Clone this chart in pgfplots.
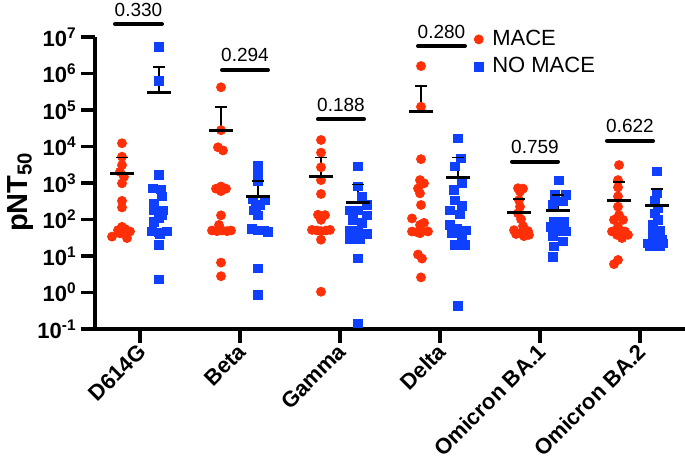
\documentclass[border=0pt]{standalone}
\usepackage{fontspec}
\setmainfont{Liberation Sans}
\usepackage{pgfplots}
\usepackage{pgfplotstable}
\pgfplotsset{compat=1.18}

\definecolor{mred}{RGB}{255,48,8}
\definecolor{mblue}{RGB}{16,64,255}

% MACE points (x = group index with swarm offset)
\pgfplotstableread{
x y
-0.18 12300
-0.18 5250
-0.18 3090
-0.20 2040
-0.16 1480
-0.18 980
-0.18 324
-0.18 214
-0.18 63
-0.22 51
-0.10 47
-0.20 42
-0.28 34
-0.13 31
-0.15 55
0.81 420000
0.81 28000
0.78 9500
0.83 7800
0.81 800
0.76 700
0.86 700
0.81 600
0.81 130
0.79 71
0.72 50
0.77 48
0.82 50
0.87 48
0.91 50
0.81 6.6
0.81 2.8
1.81 15100
1.81 6800
1.81 2700
1.81 1200
1.81 500
1.78 135
1.85 132
1.81 98
1.72 52
1.77 50
1.81 48
1.86 50
1.90 52
1.81 28
1.81 1.05
2.81 1600000
2.81 123000
2.81 4500
2.80 1200
2.84 980
2.78 710
2.80 520
2.81 250
2.72 107
2.84 81
2.80 71
2.72 47
2.77 45
2.82 47
2.88 47
2.80 42
2.78 11
2.82 8.5
2.81 2.6
3.78 720
3.83 700
3.80 580
3.79 340
3.80 225
3.78 148
3.81 102
3.83 66
3.74 51
3.88 48
3.80 42
3.84 35
3.89 38
3.76 40
4.79 3100
4.78 1200
4.78 760
4.78 430
4.78 225
4.79 132
4.74 98
4.83 98
4.78 63
4.72 47
4.85 47
4.77 38
4.88 38
4.82 31
4.78 7.8
4.74 6.0
}\mace

% NO MACE points
\pgfplotstableread{
x y
0.19 5400000
0.19 630000
0.19 1660
0.13 710
0.21 680
0.22 425
0.14 275
0.14 180
0.23 175
0.22 130
0.19 107
0.14 87
0.12 47
0.19 45
0.27 47
0.20 40
0.19 20
0.19 2.3
1.18 3090
1.18 1860
1.18 1120
1.13 355
1.25 340
1.20 250
1.16 220
1.14 180
1.18 130
1.12 56
1.18 50
1.24 50
1.28 46
1.18 4.6
1.18 0.85
2.18 2800
2.18 800
2.22 430
2.27 250
2.10 180
2.18 180
2.27 130
2.13 98
2.22 80
2.10 51
2.18 51
2.27 40
2.10 28
2.20 28
2.18 8.7
2.18 0.145
3.18 16600
3.21 4800
3.15 2800
3.22 980
3.14 650
3.15 340
3.22 235
3.10 180
3.20 138
3.10 71
3.17 58
3.26 51
3.12 42
3.22 34
3.15 20
3.25 20
3.18 0.43
4.19 1200
4.15 470
4.26 470
4.23 310
4.13 250
4.14 87
4.24 87
4.11 63
4.21 47
4.26 47
4.13 34
4.23 25
4.14 18
4.13 9.5
5.17 2100
5.17 520
5.15 340
5.18 205
5.15 148
5.18 98
5.13 71
5.20 51
5.13 38
5.22 28
5.08 22
5.15 22
5.23 22
5.10 18
5.20 18
}\nomace

% mean line + upper error bar: x, mean, mean+sd
\newcommand{\meanerr}[3]{%
  \addplot[black, line width=0.8pt, mark=-, mark indices={2}, mark size=3pt,
    mark options={line width=0.8pt}, forget plot] coordinates {(#1,#2) (#1,#3)};
  \addplot[black, only marks, mark=-, mark size=6pt,
    mark options={line width=1.5pt}, forget plot] coordinates {(#1,#2)};
}
% p-value bar: x0, x1, y, label
\newcommand{\pbar}[4]{%
  \addplot[black, line width=2pt, line cap=round, forget plot]
    coordinates {(#1,#3) (#2,#3)}
    node[pos=0.5, anchor=base, yshift=4pt, font=\fontsize{9.5}{11}\selectfont] {#4};
}

\begin{document}
\begin{tikzpicture}
\begin{axis}[
    name=ax,
    scale only axis,
    width=295pt, height=146pt,
    ymode=log, ymin=0.1, ymax=1e7,
    xmin=-0.45, xmax=5.45,
    clip=false,
    axis x line*=bottom, axis y line*=left,
    axis line style={line width=1.65pt, -},
    tick align=outside,
    major tick length=7pt,
    tick style={line width=1.65pt, black},
    yminorticks=false,
    xtick={0,1,2,3,4,5},
    xticklabels={D614G,Beta,Gamma,Delta,Omicron BA.1,Omicron BA.2},
    x tick label style={xshift=2.5pt, yshift=-1pt, rotate=45, anchor=east, inner sep=2pt,
        font=\fontsize{11}{13}\selectfont\bfseries},
    ytick={0.1,1,10,100,1000,10000,100000,1000000,10000000},
    yticklabels={10\textsuperscript{-1},10\textsuperscript{0},10\textsuperscript{1},
        10\textsuperscript{2},10\textsuperscript{3},10\textsuperscript{4},
        10\textsuperscript{5},10\textsuperscript{6},10\textsuperscript{7}},
    y tick label style={font=\fontsize{11}{13}\selectfont\bfseries, inner sep=2pt},
    ylabel={pNT\textsubscript{50}},
    ylabel style={at={(ticklabel cs:0.47)}, yshift=-3.5pt,
        font=\fontsize{14.5}{16}\selectfont\bfseries},
    legend style={draw=none, fill=none, at={(0.632,1.052)}, anchor=north west,
        font=\fontsize{11}{13}\selectfont, row sep=0.5pt,
        /tikz/every odd column/.append style={column sep=2.5pt}},
    legend cell align=left,
]
\addplot[only marks, mark=*, mark size=2.25pt, color=mred,
    mark options={draw=mred, fill=mred}] table[x=x, y=y] {\mace};
\addplot[only marks, mark=square*, mark size=2.1pt, color=mblue,
    mark options={draw=mblue, fill=mblue}] table[x=x, y=y] {\nomace};
\legend{MACE, NO MACE}

\meanerr{-0.18}{1780}{5000}
\meanerr{0.19}{300000}{1480000}
\meanerr{0.81}{27000}{123000}
\meanerr{1.18}{425}{1150}
\meanerr{1.81}{1480}{5000}
\meanerr{2.18}{295}{910}
\meanerr{2.81}{89000}{460000}
\meanerr{3.18}{1420}{5000}
\meanerr{3.79}{158}{363}
\meanerr{4.18}{182}{470}
\meanerr{4.79}{340}{1050}
\meanerr{5.17}{235}{680}

\pbar{-0.25}{0.22}{2.27e7}{0.330}
\pbar{0.82}{1.28}{1.25e6}{0.294}
\pbar{1.78}{2.24}{5.56e4}{0.188}
\pbar{2.78}{3.25}{5.66e6}{0.280}
\pbar{3.72}{4.18}{3840}{0.759}
\pbar{4.67}{5.13}{14400}{0.622}
\end{axis}
\pgfresetboundingbox
\path ([shift={(-47.5pt,-67pt)}]ax.south west) rectangle ([shift={(0pt,18.5pt)}]ax.north east);
\end{tikzpicture}
\end{document}
